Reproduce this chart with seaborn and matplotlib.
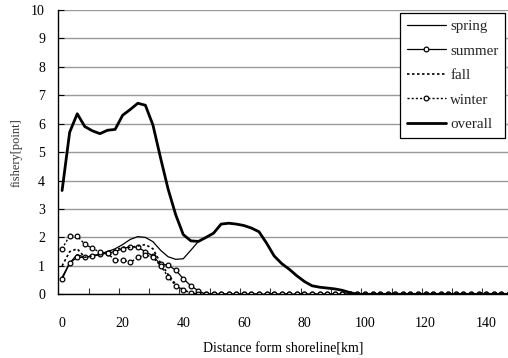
import matplotlib
matplotlib.use("Agg")
import matplotlib.pyplot as plt
import numpy as np
import pandas as pd
import seaborn as sns

# distance from shoreline [km] (category positions)
distance_km = [0, 2.5, 5, 7.5, 10, 12.5, 15, 17.5, 20, 22.5,
               25, 27.5, 30, 32.5, 35, 37.5, 40, 42.5, 45, 47.5,
               50, 52.5, 55, 57.5, 60, 62.5, 65, 67.5, 70, 72.5,
               75, 77.5, 80, 82.5, 85, 87.5, 90, 92.5, 95, 97.5,
               100, 102.5, 105, 107.5, 110, 112.5, 115, 117.5, 120, 122.5,
               125, 127.5, 130, 132.5, 135, 137.5, 140, 142.5, 145, 147.5]

spring = [0.60, 1.10, 1.40, 1.30, 1.35, 1.40, 1.50, 1.60, 1.75, 1.93,
          2.03, 2.00, 1.85, 1.55, 1.32, 1.23, 1.25, 1.55, 1.86, 2.00,
          2.15, 2.47, 2.50, 2.47, 2.42, 2.33, 2.20, 1.80, 1.35, 1.08,
          0.88, 0.65, 0.45, 0.30, 0.25, 0.22, 0.19, 0.14, 0.06, 0.00,
          0.00, 0.00, 0.00, 0.00, 0.00, 0.00, 0.00, 0.00, 0.00, 0.00,
          0.00, 0.00, 0.00, 0.00, 0.00, 0.00, 0.00, 0.00, 0.00, 0.00]

summer = [0.53, 1.10, 1.30, 1.30, 1.35, 1.40, 1.45, 1.50, 1.60, 1.68,
          1.65, 1.50, 1.35, 1.05, 1.03, 0.85, 0.55, 0.30, 0.12, 0.00,
          0.00, 0.00, 0.00, 0.00, 0.00, 0.00, 0.00, 0.00, 0.00, 0.00,
          0.00, 0.00, 0.00, 0.00, 0.00, 0.00, 0.00, 0.00, 0.00, 0.00,
          0.00, 0.00, 0.00, 0.00, 0.00, 0.00, 0.00, 0.00, 0.00, 0.00,
          0.00, 0.00, 0.00, 0.00, 0.00, 0.00, 0.00, 0.00, 0.00, 0.00]

fall = [1.00, 1.50, 1.60, 1.30, 1.35, 1.40, 1.50, 1.55, 1.65, 1.65,
        1.70, 1.75, 1.60, 1.10, 0.70, 0.35, 0.15, 0.05, 0.00, 0.00,
        0.00, 0.00, 0.00, 0.00, 0.00, 0.00, 0.00, 0.00, 0.00, 0.00,
        0.00, 0.00, 0.00, 0.00, 0.00, 0.00, 0.00, 0.00, 0.00, 0.00,
        0.00, 0.00, 0.00, 0.00, 0.00, 0.00, 0.00, 0.00, 0.00, 0.00,
        0.00, 0.00, 0.00, 0.00, 0.00, 0.00, 0.00, 0.00, 0.00, 0.00]

winter = [1.60, 2.06, 2.05, 1.76, 1.62, 1.48, 1.45, 1.19, 1.22, 1.12,
          1.30, 1.39, 1.30, 1.00, 0.62, 0.30, 0.15, 0.05, 0.00, 0.00,
          0.00, 0.00, 0.00, 0.00, 0.00, 0.00, 0.00, 0.00, 0.00, 0.00,
          0.00, 0.00, 0.00, 0.00, 0.00, 0.00, 0.00, 0.00, 0.00, 0.00,
          0.00, 0.00, 0.00, 0.00, 0.00, 0.00, 0.00, 0.00, 0.00, 0.00,
          0.00, 0.00, 0.00, 0.00, 0.00, 0.00, 0.00, 0.00, 0.00, 0.00]

overall = [3.65, 5.70, 6.35, 5.90, 5.75, 5.65, 5.77, 5.80, 6.30, 6.50,
           6.72, 6.65, 5.95, 4.80, 3.70, 2.80, 2.10, 1.88, 1.86, 2.00,
           2.15, 2.47, 2.50, 2.47, 2.42, 2.33, 2.20, 1.80, 1.35, 1.08,
           0.88, 0.65, 0.45, 0.30, 0.25, 0.22, 0.19, 0.14, 0.06, 0.00,
           0.00, 0.00, 0.00, 0.00, 0.00, 0.00, 0.00, 0.00, 0.00, 0.00,
           0.00, 0.00, 0.00, 0.00, 0.00, 0.00, 0.00, 0.00, 0.00, 0.00]

x_tick_labels = [0, 20, 40, 60, 80, 100, 120, 140]
y_ticks = [0, 1, 2, 3, 4, 5, 6, 7, 8, 9, 10]

sns.set_theme(style="white")
plt.rcParams["font.family"] = ["Liberation Serif", "DejaVu Serif"]

fig = plt.figure(figsize=(5.08, 3.58), dpi=100)
ax = fig.add_axes([58.3 / 508, 1 - 294.3 / 358, (508 - 58.3) / 508, (294.3 - 10) / 358])

mk = dict(marker="o", markersize=3.4, markerfacecolor="white",
          markeredgecolor="black", markeredgewidth=0.9)

sns.lineplot(x=distance_km, y=spring, ax=ax, color="black", lw=0.9,
             linestyle="-", label="spring")
sns.lineplot(x=distance_km, y=summer, ax=ax, color="black", lw=0.9,
             linestyle="-", label="summer", **mk)
sns.lineplot(x=distance_km, y=fall, ax=ax, color="black", lw=1.2,
             linestyle=(0, (1.5, 1.5)), label="fall")
sns.lineplot(x=distance_km, y=winter, ax=ax, color="black", lw=1.0,
             linestyle=(0, (1.5, 1.5)), label="winter", **mk)
sns.lineplot(x=distance_km, y=overall, ax=ax, color="black", lw=2.0,
             linestyle="-", label="overall")

ax.set_xlim(-1.25, 147.2)
ax.set_ylim(0, 10)
ax.set_yticks(y_ticks)
ax.set_xticks(x_tick_labels)
ax.set_xticks([8.75 + 10 * i for i in range(14)], minor=True)
ax.tick_params(axis="x", which="major", length=0, pad=16, labelsize=10, colors="black")
ax.tick_params(axis="x", which="minor", direction="in", length=4, width=0.8,
               color="#333333", bottom=True)
ax.tick_params(axis="y", direction="in", length=4, width=0.8, color="black", left=True,
               labelsize=10, pad=9.5)
for lab in ax.get_yticklabels() + ax.get_xticklabels():
    lab.set_color("black")

ax.grid(axis="y", color="#999999", lw=1.0)
ax.grid(axis="x", visible=False)
ax.set_axisbelow(True)
for side in ["top", "right"]:
    ax.spines[side].set_visible(False)
ax.spines["left"].set_color("black")
ax.spines["left"].set_linewidth(1.0)
ax.spines["bottom"].set_color("black")
ax.spines["bottom"].set_linewidth(1.0)

ax.set_xlabel("Distance form shoreline[km]", fontsize=10, color="black", labelpad=9)
ax.set_ylabel("fishery[point]", fontsize=9, color="#333333", labelpad=6)

leg = ax.legend(loc="upper right", bbox_to_anchor=(0.993, 0.989), frameon=True,
                fancybox=False, edgecolor="black", fontsize=10.8, handlelength=2.6,
                labelspacing=0.74, borderpad=0.42, handletextpad=0.3, borderaxespad=0)
leg.get_frame().set_linewidth(0.9)
leg.get_frame().set_facecolor("white")
leg.get_frame().set_alpha(1)

fig.savefig("out.png", dpi=100)
